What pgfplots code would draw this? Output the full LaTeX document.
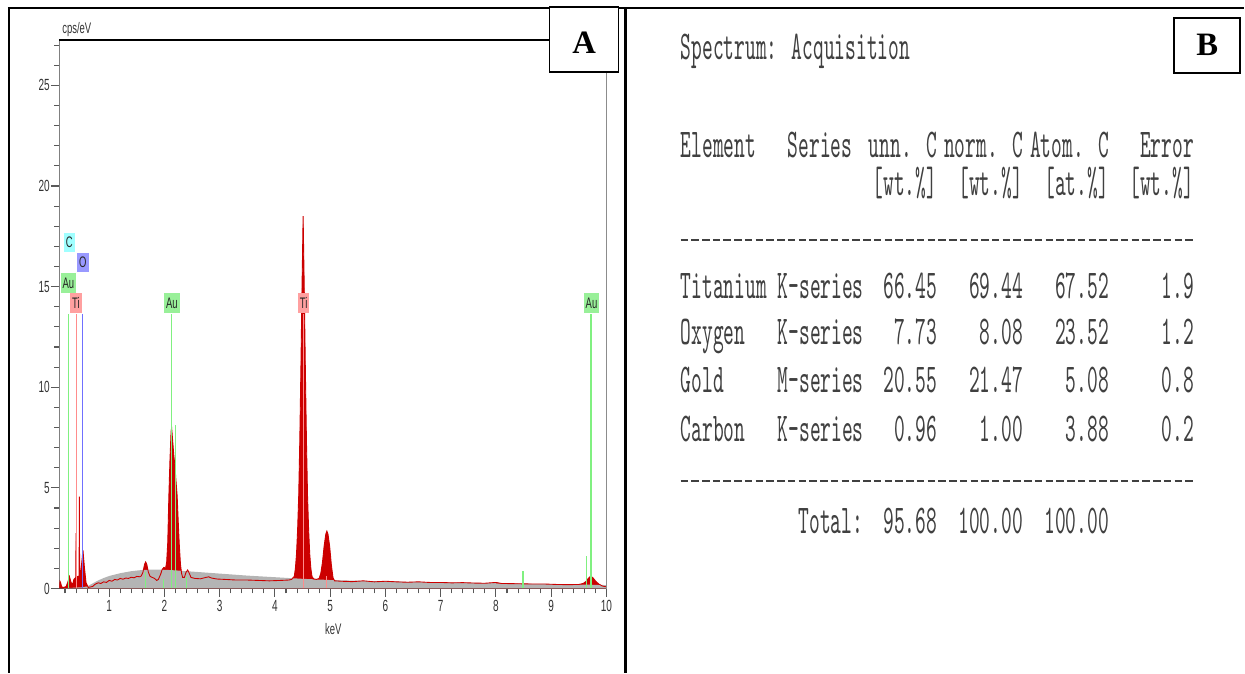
\documentclass[border=0pt]{standalone}
\usepackage{fontspec}
\usepackage{pgfplots}
\usepackage{pgfplotstable}
\pgfplotsset{compat=1.18}
\setmainfont{Liberation Sans}
\newfontfamily\plotfont[FakeStretch=0.62]{Liberation Sans}
\newfontfamily\tabfont{lmmono10-regular.otf}[FakeStretch=0.5]
\newfontfamily\panelfont{Liberation Serif}[BoldFont={Liberation Serif Bold}]

\definecolor{spec}{HTML}{CC0000}
\definecolor{bgray}{HTML}{B4B4B4}
\definecolor{augreen}{HTML}{80F080}
\definecolor{ausq}{HTML}{99F099}
\definecolor{tired}{HTML}{FF8C8C}
\definecolor{tisq}{HTML}{FFA0A0}
\definecolor{oblue}{HTML}{7070FF}
\definecolor{osq}{HTML}{9999FF}
\definecolor{csq}{HTML}{A0FFFF}

% EDS spectrum, keV vs cps/eV
\pgfplotstableread{
x y
0.100 0.05
0.110 0.35
0.120 0.30
0.140 0.08
0.180 0.05
0.220 0.10
0.250 0.30
0.280 0.60
0.310 0.30
0.340 0.20
0.360 0.45
0.380 0.50
0.395 0.55
0.400 2.75
0.405 0.55
0.430 0.60
0.455 0.60
0.460 4.57
0.465 0.60
0.480 0.70
0.500 1.20
0.525 1.90
0.550 1.10
0.580 0.30
0.620 0.05
0.700 0.10
0.750 0.22
0.800 0.28
0.850 0.25
0.900 0.33
0.950 0.30
1.000 0.40
1.050 0.36
1.100 0.45
1.150 0.42
1.200 0.50
1.250 0.46
1.300 0.52
1.350 0.50
1.400 0.56
1.450 0.53
1.500 0.60
1.550 0.58
1.580 0.62
1.610 0.80
1.640 1.20
1.660 1.32
1.680 1.20
1.710 0.80
1.740 0.60
1.780 0.55
1.820 0.50
1.860 0.40
1.890 0.45
1.930 0.70
1.960 0.95
1.990 1.05
2.020 1.00
2.040 1.30
2.060 2.30
2.080 4.60
2.100 6.40
2.120 7.80
2.130 8.00
2.150 7.30
2.170 6.60
2.190 6.10
2.210 5.30
2.230 4.60
2.250 3.30
2.270 2.10
2.290 1.20
2.310 0.75
2.330 0.55
2.360 0.55
2.390 0.80
2.420 0.92
2.450 0.75
2.480 0.55
2.550 0.50
2.650 0.48
2.750 0.55
2.800 0.58
2.850 0.52
2.950 0.47
3.100 0.45
3.300 0.42
3.500 0.42
3.700 0.40
3.900 0.38
4.100 0.40
4.250 0.42
4.300 0.45
4.350 0.60
4.370 1.00
4.390 1.70
4.410 2.90
4.430 4.60
4.450 7.40
4.470 11.00
4.490 15.00
4.510 18.50
4.530 15.00
4.550 11.00
4.570 7.40
4.590 4.60
4.610 2.90
4.630 1.70
4.650 1.00
4.670 0.60
4.700 0.48
4.750 0.45
4.800 0.50
4.830 0.75
4.860 1.30
4.890 2.10
4.920 2.70
4.940 2.85
4.960 2.70
4.990 2.10
5.020 1.20
5.050 0.55
5.080 0.38
5.200 0.36
5.400 0.34
5.600 0.38
5.800 0.33
6.000 0.36
6.200 0.33
6.400 0.31
6.600 0.33
6.800 0.30
7.000 0.30
7.200 0.28
7.400 0.29
7.600 0.27
7.800 0.26
8.000 0.30
8.100 0.25
8.300 0.24
8.500 0.23
8.700 0.22
8.900 0.22
9.100 0.20
9.300 0.19
9.500 0.20
9.580 0.25
9.630 0.35
9.670 0.50
9.710 0.60
9.750 0.55
9.800 0.38
9.860 0.22
9.930 0.12
10.000 0.08
}\spectrum

% fitted background
\pgfplotstableread{
x y
0.10 0.00
0.30 0.03
0.50 0.06
0.60 0.10
0.70 0.25
0.80 0.40
0.90 0.52
1.00 0.62
1.20 0.76
1.40 0.86
1.60 0.92
1.80 0.94
2.00 0.93
2.20 0.90
2.50 0.84
3.00 0.74
3.50 0.64
4.00 0.56
4.50 0.48
5.00 0.42
6.00 0.35
7.00 0.30
8.00 0.26
9.00 0.22
9.50 0.20
10.00 0.17
}\background

\tikzset{
  lbl/.style={font=\plotfont\fontsize{8.7}{10}\selectfont, text=black!85,
    inner xsep=0.04cm, inner ysep=0pt, minimum height=0.39cm, anchor=center},
  tab/.style={font=\tabfont\fontsize{23.3}{28}\selectfont, text=black!75, inner sep=0pt},
}

\begin{document}
\begin{tikzpicture}
\begin{scope}[x=0.02cm,y=-0.02cm]
  \useasboundingbox (0,0) rectangle (1245,673);
\end{scope}

\begin{axis}[
  at={(1.19cm,-11.78cm)}, anchor=south west,
  scale only axis, width=10.95cm, height=10.97cm,
  xmin=0.0995, xmax=10, ymin=0, ymax=27.23,
  axis x line*=bottom, axis y line*=left,
  axis line style={-, line width=0.8pt},
  x axis line style={black!75},
  y axis line style={black!50},
  xtick={1,2,...,10}, ytick={0,5,...,25},
  minor xtick={0.2,0.4,0.6,0.8,1.2,1.4,1.6,1.8,2.2,2.4,2.6,2.8,3.2,3.4,3.6,3.8,4.2,4.4,4.6,4.8,5.2,5.4,5.6,5.8,6.2,6.4,6.6,6.8,7.2,7.4,7.6,7.8,8.2,8.4,8.6,8.8,9.2,9.4,9.6,9.8},
  minor ytick={1,2,3,4,6,7,8,9,11,12,13,14,16,17,18,19,21,22,23,24,26,27},
  tick align=outside,
  major tick length=0.17cm, minor tick length=0.1cm,
  tick style={black!65, line width=0.6pt},
  /pgf/number format/assume math mode=true,
  ticklabel style={font=\plotfont\fontsize{9.2}{11}\selectfont, text=black!80},
  yticklabel style={inner xsep=0.5pt},
  xticklabel style={inner ysep=1.5pt},
]
  \addplot[fill=spec, draw=none] table {\spectrum} \closedcycle;
  \addplot[fill=bgray, draw=none] table {\background} \closedcycle;
  \addplot[spec, line width=0.5pt] table {\spectrum};

  \addplot[ycomb, augreen, line width=0.6pt, mark=none] coordinates {
    (0.27,13.66) (2.13,13.66) (9.72,13.66) (2.20,8.1) (1.66,0.8)
    (1.99,0.45) (2.40,0.55) (8.49,0.85) (9.64,1.6)};
  \addplot[ycomb, tired, line width=0.6pt, mark=none] coordinates {
    (0.40,13.66) (4.52,13.66) (4.93,0.6)};
  \addplot[ycomb, oblue, line width=0.6pt, mark=none] coordinates {
    (0.525,13.66)};

  \node[lbl, fill=csq] at (axis cs:0.28,17.19) {C};
  \node[lbl, fill=osq] at (axis cs:0.524,16.2) {O};
  \node[lbl, fill=ausq] at (axis cs:0.262,15.18) {Au};
  \node[lbl, fill=tisq] at (axis cs:0.398,14.19) {Ti};
  \node[lbl, fill=ausq] at (axis cs:2.134,14.19) {Au};
  \node[lbl, fill=tisq] at (axis cs:4.52,14.19) {Ti};
  \node[lbl, fill=ausq] at (axis cs:9.73,14.19) {Au};
\end{axis}

\begin{scope}[x=0.02cm,y=-0.02cm]
  % frame
  \draw[line width=0.035cm] (8,8) -- (1245,8);
  \draw[line width=0.05cm] (9,8) -- (9,673);
  \draw[line width=0.045cm] (626,8) -- (626,673);
  % plot box top and right
  \draw[line width=0.03cm] (59,40) -- (550,40);
  \draw[black!45, line width=0.025cm] (607,72) -- (607,589);
  \node[font=\plotfont\fontsize{8.7}{10}\selectfont, text=black!80, anchor=base west, inner sep=0pt] at (62,34) {cps/eV};
  \node[font=\plotfont\fontsize{8.7}{10}\selectfont, text=black!80, anchor=base, inner sep=0pt] at (333.5,635) {keV};
  % panel letters
  \draw[line width=0.035cm, fill=white] (550,7) rectangle (619,72);
  \node[font=\panelfont\bfseries\fontsize{18.6}{20}\selectfont, anchor=base, inner sep=0pt] at (584.5,53.3) {A};
  \draw[line width=0.035cm, fill=white] (1175,18) rectangle (1241,73);
  \node[font=\panelfont\bfseries\fontsize{18.6}{20}\selectfont, anchor=base, inner sep=0pt] at (1208,56) {B};

  % panel B text
  \node[tab, anchor=base west] at (681,60) {Spectrum: Acquisition};
  \node[tab, anchor=base west] at (681,158) {Element};
  \node[tab, anchor=base west] at (788,158) {Series};
  \node[tab, anchor=base east] at (938,158) {unn. C};
  \node[tab, anchor=base east] at (1024,158) {norm. C};
  \node[tab, anchor=base east] at (1110,158) {Atom. C};
  \node[tab, anchor=base east] at (1195,158) {Error};
  \node[tab, anchor=base east] at (938,196) {[wt.\%]};
  \node[tab, anchor=base east] at (1024,196) {[wt.\%]};
  \node[tab, anchor=base east] at (1110,196) {[at.\%]};
  \node[tab, anchor=base east] at (1195,196) {[wt.\%]};
  \draw[black!75, line width=0.04cm, dash pattern=on 0.15cm off 0.065cm] (681,240) -- (1196,240);

  \node[tab, anchor=base west] at (681,299) {Titanium};
  \node[tab, anchor=base west] at (778,299) {K-series};
  \node[tab, anchor=base east] at (938,299) {66.45};
  \node[tab, anchor=base east] at (1024,299) {69.44};
  \node[tab, anchor=base east] at (1110,299) {67.52};
  \node[tab, anchor=base east] at (1195,299) {1.9};

  \node[tab, anchor=base west] at (681,345) {Oxygen};
  \node[tab, anchor=base west] at (778,345) {K-series};
  \node[tab, anchor=base east] at (938,345) {7.73};
  \node[tab, anchor=base east] at (1024,345) {8.08};
  \node[tab, anchor=base east] at (1110,345) {23.52};
  \node[tab, anchor=base east] at (1195,345) {1.2};

  \node[tab, anchor=base west] at (681,393) {Gold};
  \node[tab, anchor=base west] at (778,393) {M-series};
  \node[tab, anchor=base east] at (938,393) {20.55};
  \node[tab, anchor=base east] at (1024,393) {21.47};
  \node[tab, anchor=base east] at (1110,393) {5.08};
  \node[tab, anchor=base east] at (1195,393) {0.8};

  \node[tab, anchor=base west] at (681,442) {Carbon};
  \node[tab, anchor=base west] at (778,442) {K-series};
  \node[tab, anchor=base east] at (938,442) {0.96};
  \node[tab, anchor=base east] at (1024,442) {1.00};
  \node[tab, anchor=base east] at (1110,442) {3.88};
  \node[tab, anchor=base east] at (1195,442) {0.2};

  \draw[black!75, line width=0.04cm, dash pattern=on 0.15cm off 0.065cm] (681,481) -- (1196,481);

  \node[tab, anchor=base east] at (864,534) {Total:};
  \node[tab, anchor=base east] at (938,534) {95.68};
  \node[tab, anchor=base east] at (1024,534) {100.00};
  \node[tab, anchor=base east] at (1110,534) {100.00};
\end{scope}
\end{tikzpicture}
\end{document}
